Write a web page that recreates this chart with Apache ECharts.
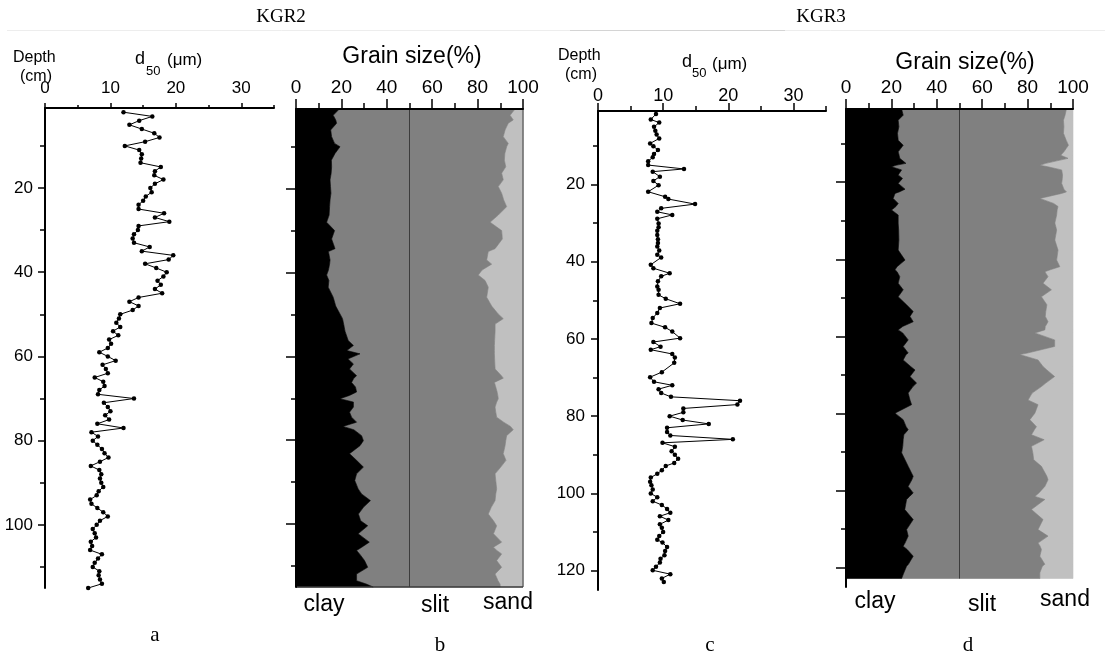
<!DOCTYPE html>
<html><head><meta charset="utf-8">
<script src="https://cdn.jsdelivr.net/npm/echarts@6/dist/echarts.min.js"></script>
<style>html,body{margin:0;padding:0;background:#fff}#c{width:1110px;height:653px}</style>
</head><body><div id="c"></div>
<script>
// ---------- KGR2 median grain size (d50, µm) vs depth (cm) ----------
const kgr2Depth = [2,3,4,5,6,7,8,9,10,
 11,12,13,14,15,16,17,18,19,20,
 21,22,23,24,25,26,27,28,29,30,
 31,32,33,34,35,36,37,38,39,40,
 41,42,43,44,45,46,47,48,49,50,
 51,52,53,54,55,56,57,58,59,60,
 61,62,63,64,65,66,67,68,69,70,
 71,72,73,74,75,76,77,78,79,80,
 81,82,83,84,85,86,87,88,89,90,
 91,92,93,94,95,96,97,98,99,100,
 101,102,103,104,105,106,107,108,109,110,
 111,112,113,114,115];
const kgr2D50 = [12.0,16.4,14.4,12.9,14.8,16.7,17.5,15.3,12.2,
 14.4,14.8,14.7,14.6,17.7,16.8,16.7,18.1,16.8,16.1,
 16.3,15.4,15.0,14.3,14.3,18.2,16.8,19.0,14.3,14.2,
 13.6,13.4,13.6,16.0,14.8,19.6,18.9,15.3,17.0,18.6,
 18.1,17.2,17.7,16.8,17.9,14.3,12.9,14.3,13.4,11.5,
 11.3,10.9,11.5,10.4,11.2,9.8,10.1,9.6,8.3,9.6,
 10.8,8.8,9.3,9.6,7.6,8.9,9.1,8.3,8.1,13.6,
 9.0,9.6,10.0,9.2,9.8,8.0,12.0,7.1,8.1,7.3,
 8.0,8.7,9.1,9.7,8.4,7.0,8.3,8.6,8.4,8.6,
 8.9,8.2,7.9,6.9,7.1,8.0,8.9,9.6,8.4,7.9,
 7.3,7.6,7.8,7.0,7.2,6.9,8.7,8.1,7.6,7.3,
 8.3,8.2,8.4,8.7,6.6];

// ---------- KGR3 median grain size ----------
const kgr3Depth = [1.8,3.2,4.0,5.1,6.1,7.1,8.1,9.4,10.1,11.1,
 12.1,13,14,15,16,16.7,18,19.1,20.2,21.9,
 23.2,23.8,25.1,26.2,27.1,27.9,28.9,30.1,31.1,32,
 33.1,34.2,35.2,36.1,37.1,38.2,38.9,40.8,41.7,43,
 43.8,45.1,46.4,47.3,48.6,49.6,50.9,52,53.3,54.6,
 55.9,57,58.1,59.8,60.8,62,62.8,63.9,64.8,66.2,
 68.6,69.9,71.1,72,73,74,75,76,77,78,
 79,80,81,82,83,84.1,85,86,86.9,87.9,
 89.1,90,91,92.1,92.9,94,94.9,95.9,97,97.9,
 99,100,101,102,103,104,105,105.9,106.9,108,
 108.9,110,111,112,112.7,113.9,114.9,116,116.9,117.9,
 119,119.9,120.9,122,122.9];
const kgr3D50 = [8.9,8.1,9.4,8.6,8.8,9.0,9.4,8.0,8.5,9.2,
 8.6,8.4,7.7,7.7,13.2,8.4,9.5,8.5,9.3,7.7,
 10.3,10.8,14.9,9.7,9.1,11.4,9.1,9.3,9.3,9.1,
 9.1,9.2,9.2,9.1,9.4,9.1,9.7,8.1,8.5,11.0,
 9.7,9.2,9.1,9.3,9.3,10.4,12.6,9.5,9.1,8.4,
 8.2,10.3,11.4,12.6,8.5,9.6,8.1,11.4,11.8,11.7,
 9.8,8.0,8.6,11.4,9.3,9.7,11.2,21.8,21.4,13.1,
 13.1,11.0,13.0,17.0,10.6,10.6,11.1,20.7,9.9,11.8,
 11.3,11.8,12.3,11.7,10.4,9.8,9.1,8.1,8.0,8.2,
 8.4,8.1,9.1,8.4,9.8,10.6,11.1,9.5,10.8,9.5,
 9.8,10.0,9.4,9.1,9.9,10.6,10.3,10.2,9.6,9.5,
 8.9,8.4,11.1,9.8,10.1];

// ---------- KGR2 grain size composition (%) ----------
const gs2Depth = [1,2.5,3.6,4.4,6,7.6,9.2,10,11.6,13.2,
 14.8,16.3,17.9,19.5,21.1,22.7,24.3,26.3,28,30,
 32,34.3,35,37,38,39.4,40.6,41.9,43.5,45.9,
 48,49.9,51,52.3,54,56.2,57.4,58.6,59.4,60.6,
 61.8,63,64.6,65.2,66.2,67.3,68.5,69.3,70.1,70.9,
 72.1,73.3,74.5,75.7,76.7,77.5,78.9,80.1,81.3,83.2,
 84.8,86.4,88,89.6,91.6,92.8,94.4,96,97.6,99.2,
 100.4,102.3,104.3,105.5,106.3,107.1,108.7,110.3,111.9,113.5,
 114.3,115];
const gs2Clay = [19.1,16.4,17.5,17.9,15.3,15.7,17.0,19.4,17.2,15.6,
 15.7,15.5,15.0,15.2,15.4,15.0,14.8,14.6,13.5,17.0,
 15.7,17.2,14.3,15.0,14.8,14.3,13.5,14.5,14.2,16.4,
 17.5,19.4,20.5,21.0,21.6,23.0,25.3,22.4,28.2,22.9,
 25.3,23.6,26.7,25.5,24.5,26.2,26.7,23.6,19.4,25.3,
 25.3,23.6,24.5,26.7,20.7,25.5,28.9,29.7,28.2,23.6,
 26.7,29.7,26.7,25.9,27.4,28.9,32.8,29.7,27.5,28.5,
 31.6,27.4,32.3,29.0,26.7,28.0,30.2,31.6,26.7,26.7,
 31.0,34.0];
const gs2Silt = [77.4,77.9,78.2,75.6,76.8,75.6,76.5,73.4,74.8,76.2,
 76.7,75.1,76.3,73.9,75.2,76.5,78.0,74.5,72.0,73.6,
 75.2,70.5,70.4,69.0,71.4,67.7,66.8,68.8,70.5,67.6,
 68.7,69.7,70.8,66.7,66.1,64.5,62.1,65.0,59.2,64.6,
 62.3,64.1,63.8,65.8,62.9,61.8,61.9,65.3,69.7,63.1,
 62.4,64.4,63.9,64.8,73.8,70.2,63.9,62.7,63.9,67.7,
 65.8,60.5,61.0,62.1,61.0,59.1,54.9,56.3,57.2,58.5,
 56.8,59.6,58.3,58.0,61.8,62.6,58.2,59.0,61.0,62.3,
 58.9,56.0];
const gs2Sand = [3.5,5.7,4.3,6.5,7.9,8.7,6.5,7.2,8.0,8.2,
 7.6,9.4,8.7,10.9,9.4,8.5,7.2,10.9,14.5,9.4,
 9.1,12.3,15.3,16.0,13.8,18.0,19.7,16.7,15.3,16.0,
 13.8,10.9,8.7,12.3,12.3,12.5,12.6,12.6,12.6,12.5,
 12.4,12.3,9.5,8.7,12.6,12.0,11.4,11.1,10.9,11.6,
 12.3,12.0,11.6,8.5,5.5,4.3,7.2,7.6,7.9,8.7,
 7.5,9.8,12.3,12.0,11.6,12.0,12.3,14.0,15.3,13.0,
 11.6,13.0,9.4,13.0,11.5,9.4,11.6,9.4,12.3,11.0,
 10.1,10.0];

// ---------- KGR3 grain size composition (%) ----------
const gs3Depth = [1,2.6,3.9,5.6,7.3,9.1,10.4,12.1,13,13.8,
 15.1,15.6,16,16.8,18.1,19,20.3,21.8,22.5,22.9,
 24.2,25.5,26.3,27.2,28.5,30.6,32.4,35,37.6,40.2,
 41.9,42.7,43.2,44.5,46.2,47.9,49.7,51.8,53.5,54.8,
 56.2,57.4,58.3,59.1,60.9,62.6,64.3,64.7,66.1,67.8,
 68.7,70.4,72.1,73,74.7,76.5,77.7,79.9,81.6,83.4,
 84.2,85.5,86.8,88.5,90.2,92,93.7,96.3,97.2,98.9,
 100.6,101.5,102.3,104.9,107.5,110.1,111.8,113.6,114.4,115.3,
 117,119.1,119.6,121.3,122.8];
const gs3Clay = [24.5,25.2,23.0,23.3,22.7,23.0,25.2,23.0,23.4,23.7,
 26.4,22.0,20.1,24.5,23.0,24.9,23.0,26.0,23.5,21.6,
 20.8,23.0,22.0,20.1,23.0,23.0,23.2,23.3,23.0,26.0,
 22.5,21.6,22.5,23.7,23.0,25.2,23.0,26.7,29.6,28.2,
 29.6,25.0,23.0,25.0,27.4,25.2,27.4,26.5,25.2,28.5,
 30.4,28.2,31.1,29.5,27.4,28.2,28.9,21.6,25.2,26.5,
 27.4,25.5,25.2,25.0,24.5,26.0,27.4,29.6,29.0,27.4,
 29.6,28.0,26.7,25.9,29.6,26.7,27.4,26.0,25.2,27.0,
 29.6,27.5,26.7,25.5,24.5];
const gs3Silt = [72.6,71.3,72.8,72.7,73.1,74.0,72.8,73.0,71.2,74.1,
 61.6,63.4,68.9,70.5,72.4,70.4,72.0,70.0,73.6,73.4,
 64.6,68.5,71.4,72.9,69.8,69.0,69.6,68.7,70.4,66.8,
 71.7,68.4,65.1,65.3,63.8,65.3,63.1,61.8,58.4,59.6,
 59.4,62.8,64.6,58.2,64.5,66.7,52.6,50.0,59.4,58.3,
 58.1,63.7,56.9,56.6,54.6,52.0,55.7,61.6,55.8,57.4,
 55.6,56.2,62.1,56.7,57.8,56.7,58.7,58.9,60.0,60.2,
 55.4,55.2,60.9,55.8,57.2,57.9,61.6,58.6,60.3,59.1,
 55.8,60.1,59.8,59.9,60.9];
const gs3Sand = [2.9,3.5,4.2,4.0,4.2,3.0,2.0,4.0,5.4,2.2,
 12.0,14.6,11.0,5.0,4.6,4.7,5.0,4.0,2.9,5.0,
 14.6,8.5,6.6,7.0,7.2,8.0,7.2,8.0,6.6,7.2,
 5.8,10.0,12.4,11.0,13.2,9.5,13.9,11.5,12.0,12.2,
 11.0,12.2,12.4,16.8,8.1,8.1,20.0,23.5,15.4,13.2,
 11.5,8.1,12.0,13.9,18.0,19.8,15.4,16.8,19.0,16.1,
 17.0,18.3,12.7,18.3,17.7,17.3,13.9,11.5,11.0,12.4,
 15.0,16.8,12.4,18.3,13.2,15.4,11.0,15.4,14.5,13.9,
 14.6,12.4,13.5,14.6,14.6];

// ---------- tick labels ----------
const d50Major = [0,10,20,30];
const d50Minor = [5,15,25,35];
const depth2Major = [20,40,60,80,100];
const depth3Major = [20,40,60,80,100,120];
const depthMinor = [10,30,50,70,90,110];
const midLine = 50;

const SANS = '"Liberation Sans", Arial, sans-serif';
const SERIF = '"Liberation Serif", "Times New Roman", serif';

const chart = echarts.init(document.getElementById('c'), null, {renderer:'canvas'});

const grid = [
  {left:45, top:108, width:229, height:480},
  {left:296, top:109, width:227, height:478},
  {left:598, top:111, width:228, height:479},
  {left:846, top:109, width:227, height:478}
];

const black = {color:'#000', width:2};
function xPair(g, max, majorLen, minorLen, margin, fs) {
  return [
    {gridIndex:g, type:'value', position:'top', min:0, max:max, z:5,
     axisLine:{lineStyle:black},
     axisTick:{customValues:d50Major, length:majorLen, lineStyle:{color:'#000', width:1.5}},
     axisLabel:{customValues:d50Major, margin:margin, fontSize:fs, color:'#000', fontFamily:SANS},
     splitLine:{show:false}},
    {gridIndex:g, type:'value', position:'top', min:0, max:max, z:5,
     axisLine:{show:false},
     axisTick:{customValues:d50Minor, length:minorLen, lineStyle:{color:'#000', width:1.5}},
     axisLabel:{show:false}, splitLine:{show:false}}
  ];
}
function xPct(g) {
  return {gridIndex:g, type:'value', position:'top', min:0, max:100, interval:20, z:5,
    axisLine:{lineStyle:black},
    axisTick:{length:10, lineStyle:{color:'#000', width:1.5}},
    minorTick:{show:true, splitNumber:2, length:6, lineStyle:{color:'#000', width:1.5}},
    axisLabel:{margin:12, fontSize:19, color:'#000', fontFamily:SANS},
    splitLine:{show:false}, minorSplitLine:{show:false}};
}
function yPair(g, max, major, showLabels, majorLen, minorLen, margin) {
  return [
    {gridIndex:g, type:'value', position:'left', inverse:true, min:1, max:max, z:5,
     axisLine:{lineStyle:black},
     axisTick:{customValues:major, length:majorLen, lineStyle:{color:'#000', width:1.5}},
     axisLabel:{show:showLabels, customValues:major, margin:margin, fontSize:17, color:'#000', fontFamily:SANS},
     splitLine:{show:false}},
    {gridIndex:g, type:'value', position:'left', inverse:true, min:1, max:max, z:5,
     axisLine:{show:false},
     axisTick:{customValues:depthMinor, length:minorLen, lineStyle:{color:'#000', width:1.5}},
     axisLabel:{show:false}, splitLine:{show:false}}
  ];
}

// x axes: a(0,1) b(2) c(3,4) d(5)
const xAxis = [...xPair(0,35,5,3,11,17), xPct(1), ...xPair(2,35,8,5,6,18), xPct(3)];
// y axes: a(0,1) b(2,3) c(4,5) d(6,7)
const yAxis = [...yPair(0,115,depth2Major,true,7,5,12), ...yPair(1,115,depth2Major,false,10,5,10),
               ...yPair(2,125,depth3Major,true,7,5,13), ...yPair(3,125,depth3Major,false,10,5,10)];

function d50Series(xi, yi, depth, vals) {
  return {type:'line', xAxisIndex:xi, yAxisIndex:yi, data:depth.map((d,i)=>[vals[i], d]),
    symbol:'circle', symbolSize:4.5, showSymbol:true, itemStyle:{color:'#000'},
    lineStyle:{color:'#000', width:1}, z:3, animation:false, silent:true};
}

function bandSeries(xi, yi, depth, left, right, color) {
  return {type:'custom', xAxisIndex:xi, yAxisIndex:yi, z:1, animation:false, silent:true,
    data: depth.map((d,i)=>[left[i], right[i], d]),
    encode:{x:[0,1], y:2},
    renderItem:function(params, api){
      if (params.dataIndex !== 0) return null;
      const pts = [];
      for (let i=0;i<depth.length;i++) pts.push(api.coord([right[i], depth[i]]));
      for (let i=depth.length-1;i>=0;i--) pts.push(api.coord([left[i], depth[i]]));
      return {type:'polygon', shape:{points:pts}, style:{fill:color, stroke:color, lineWidth:0.6}};
    }};
}

function compositionSeries(xi, yi, depth, clay, silt, sand, frame) {
  const zero = depth.map(()=>0);
  const c1 = clay.slice();
  const c2 = clay.map((c,i)=>c+silt[i]);
  const c3 = clay.map((c,i)=>c+silt[i]+sand[i]);
  const dTop = depth[0], dBot = depth[depth.length-1];
  const out = [
    bandSeries(xi, yi, depth, c2, c3, '#c0c0c0'),
    bandSeries(xi, yi, depth, c1, c2, '#808080'),
    bandSeries(xi, yi, depth, zero, c1, '#000000'),
    {type:'custom', xAxisIndex:xi, yAxisIndex:yi, z:2, animation:false, silent:true,
     data:[[midLine, dTop],[midLine, dBot]],
     renderItem:function(params, api){
       if (params.dataIndex !== 0) return null;
       const p1 = api.coord([midLine, dTop]), p2 = api.coord([midLine, dBot]);
       return {type:'line', shape:{x1:p1[0], y1:p1[1], x2:p2[0], y2:p2[1]}, style:{stroke:'#3c3c3c', lineWidth:1}};
     }}
  ];
  if (frame) {
    out.push({type:'custom', xAxisIndex:xi, yAxisIndex:yi, z:2, animation:false, silent:true,
      data:[[100, dTop]],
      renderItem:function(params, api){
        const tr = api.coord([100, dTop]), br = api.coord([100, dBot]), bl = api.coord([0, dBot]);
        return {type:'group', children:[
          {type:'line', shape:{x1:tr[0], y1:tr[1], x2:br[0], y2:br[1]}, style:{stroke:'#6a6a6a', lineWidth:1.5}},
          {type:'line', shape:{x1:bl[0], y1:bl[1], x2:br[0], y2:br[1]}, style:{stroke:'#3a3a3a', lineWidth:1.5}}
        ]};
      }});
  }
  return out;
}

const series = [
  d50Series(0, 0, kgr2Depth, kgr2D50),
  ...compositionSeries(2, 2, gs2Depth, gs2Clay, gs2Silt, gs2Sand, true),
  d50Series(3, 4, kgr3Depth, kgr3D50),
  ...compositionSeries(5, 6, gs3Depth, gs3Clay, gs3Silt, gs3Sand, false)
];

function txt(x, y, text, font, align) {
  return {type:'text', x:x, y:y, silent:true,
    style:{text:text, font:font, fill:'#000', textAlign:align||'center', textVerticalAlign:'middle'}};
}
const graphic = [
  {type:'line', silent:true, shape:{x1:7,y1:30.5,x2:1105,y2:30.5}, style:{stroke:'#ededed', lineWidth:1}},
  {type:'line', silent:true, shape:{x1:570,y1:30.5,x2:785,y2:30.5}, style:{stroke:'#d4d4d4', lineWidth:1}},
  txt(281, 17, 'KGR2', '19px '+SERIF),
  txt(821, 17, 'KGR3', '19px '+SERIF),
  txt(13, 58, 'Depth', '16px '+SANS, 'left'),
  txt(20, 77, '(cm)', '16px '+SANS, 'left'),
  txt(135, 59, 'd', '18px '+SANS, 'left'),
  txt(146, 71, '50', '13px '+SANS, 'left'),
  txt(167, 60, '(μm)', '17px '+SANS, 'left'),
  txt(558, 56, 'Depth', '16px '+SANS, 'left'),
  txt(565, 75, '(cm)', '16px '+SANS, 'left'),
  txt(682, 62, 'd', '18px '+SANS, 'left'),
  txt(692, 73, '50', '13px '+SANS, 'left'),
  txt(712, 64, '(μm)', '17px '+SANS, 'left'),
  txt(412, 57, 'Grain size(%)', '23px '+SANS),
  txt(965, 63, 'Grain size(%)', '23px '+SANS),
  txt(324, 605, 'clay', '23px '+SANS),
  txt(435, 606, 'slit', '23px '+SANS),
  txt(508, 603, 'sand', '23px '+SANS),
  txt(875, 602, 'clay', '23px '+SANS),
  txt(982, 605, 'slit', '23px '+SANS),
  txt(1065, 600, 'sand', '23px '+SANS),
  txt(155, 635, 'a', '21px '+SERIF),
  txt(440, 645, 'b', '21px '+SERIF),
  txt(710, 645, 'c', '21px '+SERIF),
  txt(968, 645, 'd', '21px '+SERIF)
];

chart.setOption({
  backgroundColor:'#fff',
  animation:false,
  grid:grid,
  xAxis:xAxis,
  yAxis:yAxis,
  series:series,
  graphic:{elements:graphic}
});
</script>
</body></html>
